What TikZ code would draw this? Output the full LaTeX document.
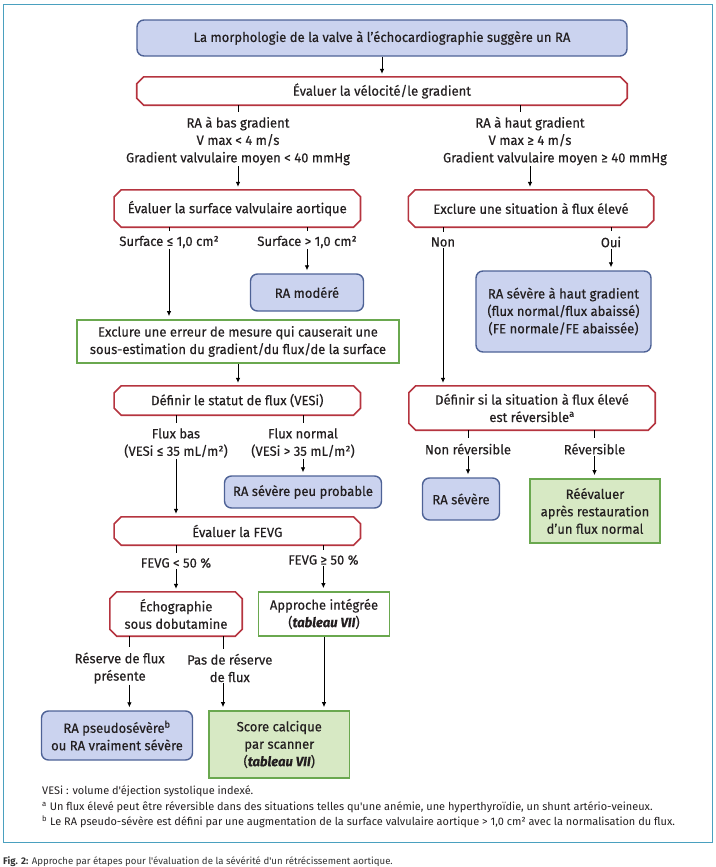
\documentclass[tikz,border=0pt]{standalone}
\usepackage{fontspec}
\setmainfont{Fira Sans}[FakeStretch=0.97,FakeBold=0.4]
\newfontfamily\fnfont{Fira Sans}[FakeStretch=1.0]
\newfontfamily\capfont{Fira Sans}[FakeStretch=1.0]
\usetikzlibrary{arrows.meta}
\definecolor{redb}{HTML}{B5343F}
\definecolor{blueb}{HTML}{4E6296}
\definecolor{bluef}{HTML}{CBD3EF}
\definecolor{greenb}{HTML}{6AA84F}
\definecolor{greenf}{HTML}{D7E9C4}
\definecolor{framec}{HTML}{4AA0BF}
\definecolor{capc}{HTML}{333333}
\definecolor{txt}{HTML}{231F20}
\begin{document}
\begin{tikzpicture}[x=1bp,y=-1bp,
 base/.style={font=\fontsize{13.5}{17.5}\selectfont, align=center, inner sep=0pt, text=txt},
 bluebox/.style={base, draw=blueb, fill=bluef, line width=1.4bp, rounded corners=7bp, rectangle},
 redline/.style={draw=redb, line width=1.6bp, line join=miter},
 redbox/.style={base, rectangle, append after command={\pgfextra{\draw[redline]
   ([xshift=7bp]\tikzlastnode.north west) -- ([xshift=-7bp]\tikzlastnode.north east)
   -- ([yshift=-7bp]\tikzlastnode.north east) -- ([yshift=7bp]\tikzlastnode.south east)
   -- ([xshift=-7bp]\tikzlastnode.south east) -- ([xshift=7bp]\tikzlastnode.south west)
   -- ([yshift=7bp]\tikzlastnode.south west) -- ([yshift=-7bp]\tikzlastnode.north west) -- cycle;}}},
 greenbox/.style={base, draw=greenb, line width=1.8bp, rectangle},
 greenfill/.style={greenbox, fill=greenf},
 lbl/.style={base, inner sep=1bp},
 link/.style={line width=0.8bp, draw=black},
 arr/.style={link, -{Latex[length=5bp,width=4.5bp]}, shorten >=3bp},
 stub/.style={link, shorten >=4bp},
 fn/.style={anchor=west, inner sep=0pt, font=\fnfont\fontsize{11}{13}\selectfont, text=txt},
 ]
\useasboundingbox (0,0) rectangle (716,867);
\draw[framec, line width=0.8bp] (3.5,4) rectangle (712.5,842);

\node[bluebox, minimum width=490bp, minimum height=36bp] (top) at (382,38) {La morphologie de la valve à l'échocardiographie suggère un RA};
\node[redbox, minimum width=490bp, minimum height=28bp] (velo) at (382,91) {Évaluer la vélocité/le gradient};
\node[lbl] (low) at (238,141) {RA à bas gradient\\V max < 4 m/s\\Gradient valvulaire moyen < 40 mmHg};
\node[lbl] (high) at (530,141) {RA à haut gradient\\V max ≥ 4 m/s\\\hspace*{50bp}Gradient valvulaire moyen ≥ 40 mmHg};
\node[redbox, minimum width=246bp, minimum height=37bp] (surf) at (237.3,208.5) {Évaluer la surface valvulaire aortique};
\node[redbox, minimum width=245bp, minimum height=37bp] (excl) at (531,208.5) {Exclure une situation à flux élevé};
\node[lbl] (sle) at (169,242) {Surface ≤ 1,0 cm²};
\node[lbl] (sgt) at (307,242) {Surface > 1,0 cm²};
\node[lbl] (non) at (443,242) {Non};
\node[lbl] (oui) at (611,242) {Oui};
\node[bluebox, minimum width=113bp, minimum height=37bp] (mod) at (307,292.5) {RA modéré};
\node[bluebox, minimum width=175bp, minimum height=81bp] (hg) at (563.5,311.5) {RA sévère à haut gradient\\(flux normal/flux abaissé)\\(FE normale/FE abaissée)};
\node[greenbox, minimum width=322bp, minimum height=43bp] (err) at (238,341.5) {Exclure une erreur de mesure qui causerait une\\sous-estimation du gradient/du flux/de la surface};
\node[redbox, minimum width=246bp, minimum height=29bp] (statut) at (237.3,400.5) {Définir le statut de flux (VESi)};
\node[redbox, minimum width=246bp, minimum height=44bp] (rev) at (532,408) {Définir si la situation à flux élevé\\est réversible\textsuperscript{a}};
\node[lbl] (fbas) at (176,443) {Flux bas\\(VESi ≤ 35 mL/m²)};
\node[lbl] (fnorm) at (303,443) {Flux normal\\(VESi > 35 mL/m²)};
\node[bluebox, minimum width=157bp, minimum height=32bp] (peu) at (303,492) {RA sévère peu probable};
\node[lbl] (nrev) at (468,449) {Non réversible};
\node[lbl] (orev) at (594.5,449) {Réversible};
\node[bluebox, minimum width=77bp, minimum height=42bp] (sev) at (461,499) {RA sévère};
\node[greenfill, minimum width=130.5bp, minimum height=64bp] (reev) at (595,511) {Réévaluer\\après restauration\\d'un flux normal};
\node[redbox, minimum width=246bp, minimum height=28bp] (fevg) at (237.3,531) {Évaluer la FEVG};
\node[lbl] (flt) at (176,563) {FEVG < 50~\%};
\node[lbl] (fge) at (323.4,560) {FEVG ≥ 50~\%};
\node[redbox, minimum width=132bp, minimum height=44bp] (echo) at (176,614) {Échographie\\sous dobutamine};
\node[greenbox, minimum width=131bp, minimum height=44bp] (appr) at (324,614) {Approche intégrée\\(\textbf{\textit{tableau VII}})};
\node[lbl] (res) at (119.7,668) {Réserve de flux\\présente};
\node[lbl] (pas) at (229.8,668) {Pas de réserve\\de flux};
\node[bluebox, minimum width=151bp, minimum height=49bp] (pseudo) at (117,735.5) {RA pseudosévère\textsuperscript{b}\\ou RA vraiment sévère};
\node[greenfill, minimum width=140.5bp, minimum height=67bp] (score) at (279.3,744.5) {Score calcique\\par scanner\\(\textbf{\textit{tableau VII}})};

\path ([xshift=-10bp]high.north) coordinate (hn)
      ([xshift=9.7bp]res.north) coordinate (resn) ([xshift=9.7bp]res.south) coordinate (ress)
      ([xshift=-6.8bp]pas.north) coordinate (pasn) ([xshift=-6.8bp]pas.south) coordinate (pass);

\draw[arr] (top.south) -- (velo.north);
\draw[stub] (velo.south -| low) -- (low.north);
\draw[stub] (velo.south -| hn) -- (hn);
\draw[arr] (low.south) -- (low.south |- surf.north);
\draw[arr] (high.south) -- (high.south |- excl.north);
\draw[stub] (surf.south -| sle) -- (sle.north);
\draw[stub] (surf.south -| sgt) -- (sgt.north);
\draw[stub] (excl.south -| non) -- (non.north);
\draw[stub] (excl.south -| oui) -- (oui.north);
\draw[arr] (sle.south) -- (sle.south |- err.north);
\draw[arr] (sgt.south) -- (sgt.south |- mod.north);
\draw[arr] (non.south) -- (non.south |- rev.north);
\draw[arr] (oui.south) -- (oui.south |- hg.north);
\draw[arr] (err.south) -- (err.south |- statut.north);
\draw[stub] (statut.south -| fbas) -- (fbas.north);
\draw[stub] (statut.south -| fnorm) -- (fnorm.north);
\draw[arr] (fbas.south) -- (fbas.south |- fevg.north);
\draw[arr] (fnorm.south) -- (fnorm.south |- peu.north);
\draw[stub] (rev.south -| nrev) -- (nrev.north);
\draw[stub] (rev.south -| orev) -- (orev.north);
\draw[arr] (nrev.south) -- (nrev.south |- sev.north);
\draw[arr] (orev.south) -- (orev.south |- reev.north);
\draw[stub] (fevg.south -| flt) -- (flt.north);
\draw[stub] (fevg.south -| fge) -- (fge.north);
\draw[arr] (flt.south) -- (flt.south |- echo.north);
\draw[arr] (fge.south) -- (fge.south |- appr.north);
\draw[stub] (echo.south -| resn) -- (resn);
\draw[stub] (echo.south -| pasn) -- (pasn);
\draw[arr] (ress) -- (ress |- pseudo.north);
\draw[arr] (pass) -- (pass |- score.north);
\draw[arr] (appr.south) -- (appr.south |- score.north);

\node[fn] (fn1) at (42,791) {VESi : volume d'éjection systolique indexé.};
\node[fn] (fn2) at (42,807) {\textsuperscript{a} Un flux élevé peut être réversible dans des situations telles qu'une anémie, une hyperthyroïdie, un shunt artério-veineux.};
\node[fn] (fn3) at (42,822) {\textsuperscript{b} Le RA pseudo-sévère est défini par une augmentation de la surface valvulaire aortique > 1,0 cm² avec la normalisation du flux.};
\node[anchor=west, inner sep=0pt, font=\capfont\fontsize{9.7}{12}\selectfont, text=capc] (cap) at (3,862) {\textbf{Fig. 2:} Approche par étapes pour l'évaluation de la sévérité d'un rétrécissement aortique.};
\end{tikzpicture}
\end{document}
